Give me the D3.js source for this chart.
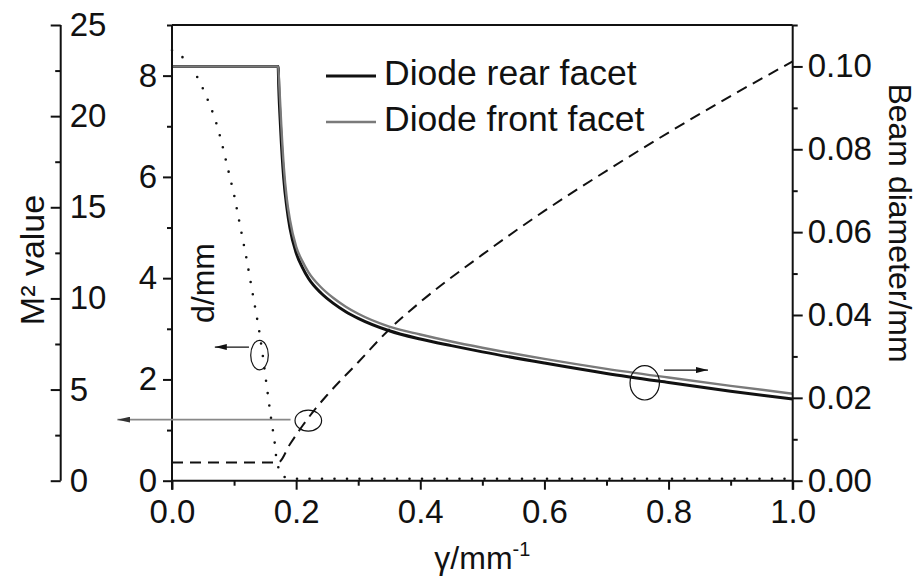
<!DOCTYPE html>
<html>
<head>
<meta charset="utf-8">
<script src="https://cdn.jsdelivr.net/npm/d3@7/dist/d3.min.js"></script>
<style>
  html, body { margin: 0; padding: 0; background: #fff; }
  svg { display: block; }
  text { font-family: "Liberation Sans", Arial, Helvetica, sans-serif; fill: #111; }
</style>
</head>
<body>
<svg id="chart" width="920" height="579"></svg>
<script>
// ---------------- data ----------------
// Beam diameter (mm) vs gamma (1/mm) - Diode rear facet
const rearGamma = [0, 0.171, 0.172, 0.175, 0.18, 0.185, 0.19, 0.2, 0.21, 0.22, 0.24, 0.26, 0.28, 0.3, 0.35, 0.4, 0.45, 0.5, 0.6, 0.7, 0.8, 0.9, 1.0];
const rearBeam  = [0.100, 0.100, 0.095, 0.085, 0.073, 0.066, 0.061, 0.055, 0.0515, 0.0488, 0.0453, 0.0428, 0.0408, 0.0392, 0.0362, 0.0342, 0.0326, 0.0311, 0.0284, 0.0259, 0.0237, 0.0216, 0.0197];
// Beam diameter (mm) vs gamma - Diode front facet
const frontGamma = [0, 0.171, 0.173, 0.176, 0.18, 0.185, 0.19, 0.2, 0.21, 0.22, 0.24, 0.26, 0.28, 0.3, 0.35, 0.4, 0.45, 0.5, 0.6, 0.7, 0.8, 0.9, 1.0];
const frontBeam  = [0.100, 0.100, 0.095, 0.086, 0.076, 0.068, 0.063, 0.0565, 0.053, 0.0503, 0.0467, 0.0441, 0.0420, 0.0403, 0.0372, 0.0353, 0.0336, 0.0321, 0.0294, 0.0270, 0.0249, 0.0229, 0.0210];
// M² value (dashed)
const m2Gamma = [0, 0.171, 0.19, 0.21, 0.23, 0.25, 0.3, 0.35, 0.4, 0.5, 0.6, 0.7, 0.8, 0.9, 1.0];
const m2Value = [1.0, 1.0, 2.0, 3.0, 3.9, 4.7, 6.5, 8.3, 9.8, 12.4, 14.8, 17.0, 19.1, 21.1, 23.0];
// d/mm (dotted)
const dGamma = [0, 0.02, 0.035, 0.046, 0.055, 0.063, 0.07, 0.076, 0.081, 0.10, 0.12, 0.14, 0.146, 0.151, 0.159, 0.165, 0.169, 0.178, 0.2, 1.0];
const dValue = [8.5, 8.34, 8.1, 7.85, 7.6, 7.36, 7.12, 6.87, 6.63, 5.65, 4.39, 3.0, 2.5, 2.02, 1.28, 0.8, 0.33, 0.08, 0.04, 0.04];

// tick values
const xMajor = [0, 0.2, 0.4, 0.6, 0.8, 1.0];
const xMinor = [0.1, 0.3, 0.5, 0.7, 0.9];
const dMajor = [0, 2, 4, 6, 8];
const dMinor = [1, 3, 5, 7, 9];
const bMajor = [0, 0.02, 0.04, 0.06, 0.08, 0.10];
const bMinor = [0.01, 0.03, 0.05, 0.07, 0.09, 0.11];
const mMajor = [0, 5, 10, 15, 20, 25];
const mMinor = [2.5, 7.5, 12.5, 17.5, 22.5];

const legendLabels = ["Diode rear facet", "Diode front facet"];
const xTitle = "γ/mm";
const dTitle = "d/mm";
const bTitle = "Beam diameter/mm";
const mTitle = "M² value";

// annotations in data units
const ellD = {g: 0.141, v: 2.48};           // on d axis
const arrowD = {g1: 0.124, g2: 0.069, v: 2.64};
const ellM = {g: 0.2196, v: 3.30};          // on M² axis
const arrowM = {g1: 0.191, g2: -0.088, v: 3.35};
const ellB = {g: 0.7616, v: 0.02363};       // on beam axis
const arrowB = {g1: 0.7926, g2: 0.8635, v: 0.0267};

// ---------------- layout ----------------
const svg = d3.select("#chart");
const X0 = 172, X1 = 792.7, Y0 = 480.7, YT = 25, MX = 60.7;
const x = d3.scaleLinear().domain([0, 1]).range([X0, X1]);
const yD = d3.scaleLinear().domain([0, 9]).range([Y0, YT]);
const yB = d3.scaleLinear().domain([0, 0.11]).range([Y0, YT]);
const yM = d3.scaleLinear().domain([0, 25]).range([Y0, YT]);

const FS = 33;
const ink = "#111";

// defs: arrow markers
const defs = svg.append("defs");
function marker(id, len, wid, col) {
  defs.append("marker").attr("id", id)
    .attr("viewBox", `0 ${-wid/2} ${len} ${wid}`)
    .attr("refX", len).attr("refY", 0)
    .attr("markerWidth", len).attr("markerHeight", wid)
    .attr("markerUnits", "userSpaceOnUse")
    .attr("orient", "auto")
    .append("path").attr("d", `M0,${-wid/2}L${len},0L0,${wid/2}Z`).attr("fill", col);
}
marker("arrK", 12, 6, ink);
marker("arrG", 13, 6, "#333");

// ---------------- curves ----------------
const lineD = d3.line().x((d, i) => x(dGamma[i])).y(d => yD(d));
svg.append("path").datum(dValue).attr("d", lineD)
  .attr("fill", "none").attr("stroke", ink).attr("stroke-width", 2.6)
  .attr("stroke-linecap", "round").attr("stroke-dasharray", "0,12.5");

const lineM = d3.line().x((d, i) => x(m2Gamma[i])).y(d => yM(d)).curve(d3.curveMonotoneX);
svg.append("path").datum(m2Value).attr("d", lineM)
  .attr("fill", "none").attr("stroke", ink).attr("stroke-width", 2)
  .attr("stroke-dasharray", "11,7");

const lineR = d3.line().x((d, i) => x(rearGamma[i])).y(d => yB(d)).curve(d3.curveMonotoneX);
svg.append("path").datum(rearBeam).attr("d", lineR)
  .attr("fill", "none").attr("stroke", "#111").attr("stroke-width", 3);
const lineF = d3.line().x((d, i) => x(frontGamma[i])).y(d => yB(d)).curve(d3.curveMonotoneX);
svg.append("path").datum(frontBeam).attr("d", lineF)
  .attr("fill", "none").attr("stroke", "#7a7a7a").attr("stroke-width", 2.4);

// ---------------- axes ----------------
function styleAxis(g) {
  g.selectAll("path.domain").remove();
  g.selectAll("line").attr("stroke", ink).attr("stroke-width", 2);
  g.selectAll("text").attr("font-size", FS).attr("fill", ink)
    .attr("font-family", '"Liberation Sans", Arial, sans-serif');
}
// frame / axis lines
svg.append("line").attr("x1", X0).attr("x2", X0).attr("y1", YT).attr("y2", Y0 + 9).attr("stroke", ink).attr("stroke-width", 2);
svg.append("line").attr("x1", X1).attr("x2", X1).attr("y1", YT).attr("y2", Y0 + 9).attr("stroke", ink).attr("stroke-width", 2);
svg.append("line").attr("x1", X0).attr("x2", X1).attr("y1", Y0).attr("y2", Y0).attr("stroke", ink).attr("stroke-width", 2);
svg.append("line").attr("x1", X0).attr("x2", X1).attr("y1", YT).attr("y2", YT).attr("stroke", ink).attr("stroke-width", 2);
svg.append("line").attr("x1", MX).attr("x2", MX).attr("y1", YT).attr("y2", Y0).attr("stroke", ink).attr("stroke-width", 2);

// x axis
svg.append("g").attr("transform", `translate(0,${Y0})`)
  .call(d3.axisBottom(x).tickValues(xMajor).tickSize(9).tickPadding(10).tickFormat(d3.format(".1f")))
  .call(styleAxis);
svg.append("g").attr("transform", `translate(0,${Y0})`)
  .call(d3.axisBottom(x).tickValues(xMinor).tickSize(5).tickFormat(""))
  .call(styleAxis);

// d axis (inner left)
svg.append("g").attr("transform", `translate(${X0},0)`)
  .call(d3.axisLeft(yD).tickValues(dMajor).tickSize(9).tickPadding(6).tickFormat(d3.format("d")))
  .call(styleAxis);
svg.append("g").attr("transform", `translate(${X0},0)`)
  .call(d3.axisLeft(yD).tickValues(dMinor).tickSize(5).tickFormat(""))
  .call(styleAxis);

// beam diameter axis (right)
svg.append("g").attr("transform", `translate(${X1},0)`)
  .call(d3.axisRight(yB).tickValues(bMajor).tickSize(10).tickPadding(5).tickFormat(d3.format(".2f")))
  .call(styleAxis);
svg.append("g").attr("transform", `translate(${X1},0)`)
  .call(d3.axisRight(yB).tickValues(bMinor).tickSize(5).tickFormat(""))
  .call(styleAxis);

// M² axis (outer left): ticks to the left, labels to the right
svg.append("g").attr("transform", `translate(${MX},0)`)
  .call(d3.axisRight(yM).tickValues(mMajor).tickSizeInner(-10).tickSizeOuter(0).tickPadding(9).tickFormat(d3.format("d")))
  .call(styleAxis);
svg.append("g").attr("transform", `translate(${MX},0)`)
  .call(d3.axisRight(yM).tickValues(mMinor).tickSizeInner(-5.5).tickSizeOuter(0).tickFormat(""))
  .call(styleAxis);

// ---------------- titles ----------------
const xt = svg.append("text").attr("x", (X0 + X1) / 2).attr("y", 569)
  .attr("text-anchor", "middle").attr("font-size", 32).text(xTitle);
xt.append("tspan").attr("font-size", 20).attr("dy", -13).text("-1");

svg.append("text").attr("transform", `translate(44,260) rotate(-90)`)
  .attr("text-anchor", "middle").attr("font-size", 34).text(mTitle);
svg.append("text").attr("transform", `translate(214,283) rotate(-90)`)
  .attr("text-anchor", "middle").attr("font-size", 32).text(dTitle);
svg.append("text").attr("transform", `translate(889,223) rotate(90)`)
  .attr("text-anchor", "middle").attr("font-size", 32).text(bTitle);

// ---------------- legend ----------------
const legColors = ["#111", "#7a7a7a"];
const legWidths = [3, 2.4];
legendLabels.forEach((lab, i) => {
  const ly = 76 + i * 46;
  svg.append("line").attr("x1", 326).attr("x2", 376).attr("y1", ly).attr("y2", ly)
    .attr("stroke", legColors[i]).attr("stroke-width", legWidths[i]);
  svg.append("text").attr("x", 384).attr("y", ly + 9).attr("font-size", 35.5).text(lab);
});

// ---------------- annotations ----------------
svg.append("ellipse").attr("cx", x(ellD.g)).attr("cy", yD(ellD.v)).attr("rx", 8.8).attr("ry", 14.7)
  .attr("fill", "none").attr("stroke", ink).attr("stroke-width", 1.2);
svg.append("line").attr("x1", x(arrowD.g1)).attr("x2", x(arrowD.g2)).attr("y1", yD(arrowD.v)).attr("y2", yD(arrowD.v))
  .attr("stroke", ink).attr("stroke-width", 1.3).attr("marker-end", "url(#arrK)");

svg.append("ellipse").attr("cx", x(ellM.g)).attr("cy", yM(ellM.v)).attr("rx", 13.3).attr("ry", 10.5)
  .attr("fill", "none").attr("stroke", ink).attr("stroke-width", 1.2);
svg.append("line").attr("x1", x(arrowM.g1)).attr("x2", x(arrowM.g2)).attr("y1", yM(arrowM.v)).attr("y2", yM(arrowM.v))
  .attr("stroke", "#888").attr("stroke-width", 1.6).attr("marker-end", "url(#arrG)");

svg.append("ellipse").attr("cx", x(ellB.g)).attr("cy", yB(ellB.v)).attr("rx", 14.7).attr("ry", 17.2)
  .attr("fill", "none").attr("stroke", ink).attr("stroke-width", 1.2);
svg.append("line").attr("x1", x(arrowB.g1)).attr("x2", x(arrowB.g2)).attr("y1", yB(arrowB.v)).attr("y2", yB(arrowB.v))
  .attr("stroke", ink).attr("stroke-width", 1.3).attr("marker-end", "url(#arrK)");
</script>
</body>
</html>
